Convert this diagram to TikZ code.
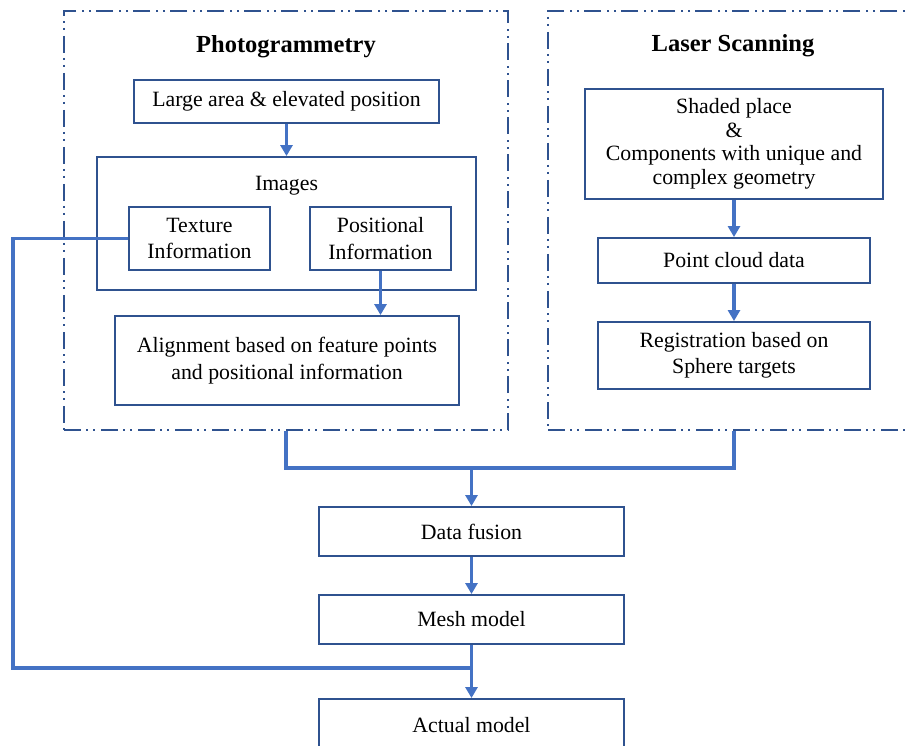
\documentclass[tikz,border=0pt]{standalone}
\usepackage{fontspec}
\setmainfont{Liberation Serif}
\usetikzlibrary{arrows.meta}
\definecolor{boxblue}{HTML}{2F528F}
\definecolor{linkblue}{HTML}{4472C4}
\tikzset{
  txt/.style={font=\fontsize{21.8}{26.5}\selectfont, align=center, text=black},
  box/.style={txt, draw=boxblue, line width=1.9pt, inner sep=0pt},
  group/.style={draw=boxblue, line width=1.9pt, inner sep=0pt,
    dash pattern=on 17pt off 5pt on 2pt off 5pt on 2pt off 6pt},
  heading/.style={font=\fontsize{24.5}{28}\selectfont\bfseries, text=black},
  link/.style={draw=linkblue, line width=3.5pt, line join=miter},
  flow/.style={link, -{Triangle[length=11pt, width=12pt]}},
}
\begin{document}
\begin{tikzpicture}[x=1pt, y=-1pt]
  \useasboundingbox (0,0) rectangle (910,746);
  \fill[white] (0,0) rectangle (910,746);
  \clip (0,0) rectangle (910,746);

  % dash-dotted group frames
  \node[group, minimum width=444pt, minimum height=419pt] (pframe) at (286,220.5) {};
  \node[group, minimum width=372pt, minimum height=419pt] (lframe) at (734,220.5) {};
  \node[heading] (ptitle) at (286,47) {Photogrammetry};
  \node[heading] (ltitle) at (733,46) {Laser Scanning};

  % photogrammetry branch
  \node[box, minimum width=305pt, minimum height=43pt] (large) at (286.5,101.5) {Large area \& elevated position};
  \node[box, minimum width=379pt, minimum height=133pt] (images) at (286.5,223.5) {};
  \node[txt] (imglabel) at (286.5,186) {Images};
  \node[box, minimum width=141pt, minimum height=63pt] (texture) at (199.5,238.5) {Texture\\Information};
  \node[box, minimum width=141pt, minimum height=63pt] (posinfo) at (380.5,238.5) {Positional\\Information};
  \node[box, minimum width=344pt, minimum height=89pt] (align) at (287,360.5) {Alignment based on feature points\\and positional information};

  % laser scanning branch
  \node[box, minimum width=298pt, minimum height=110pt, font=\fontsize{21.8}{23.5}\selectfont] (shaded) at (734,144) {Shaded place\\\&\\Components with unique and\\complex geometry};
  \node[box, minimum width=272pt, minimum height=45pt] (pcd) at (734,260.5) {Point cloud data};
  \node[box, minimum width=272pt, minimum height=67pt] (reg) at (734,355.5) {Registration based on\\Sphere targets};

  % shared pipeline
  \node[box, minimum width=305pt, minimum height=49pt] (fusion) at (471.5,531.5) {Data fusion};
  \node[box, minimum width=305pt, minimum height=49pt] (mesh) at (471.5,619.5) {Mesh model};
  \node[box, minimum width=305pt, minimum height=62pt, text depth=0pt] (actual) at (471.5,730) {\raisebox{10pt}{Actual model}};

  \coordinate (merge) at (471.5,468);
  \coordinate (bend) at (13,668);

  % connectors
  \draw[flow] (large.south) -- (images.north);
  \draw[flow] (posinfo.south) -- (posinfo.south |- align.north);
  \draw[flow] (shaded.south) -- (pcd.north);
  \draw[flow] (pcd.south) -- (reg.north);
  \draw[link] (pframe.south) -- (pframe.south |- merge) -- (lframe.south |- merge) -- (lframe.south);
  \draw[flow] (merge) -- (fusion.north);
  \draw[flow] (fusion.south) -- (mesh.north);
  \draw[link] (texture.west) -- (bend |- texture.west) -- (bend) -- (mesh.south |- bend);
  \draw[flow] (mesh.south) -- (actual.north);
\end{tikzpicture}
\end{document}
